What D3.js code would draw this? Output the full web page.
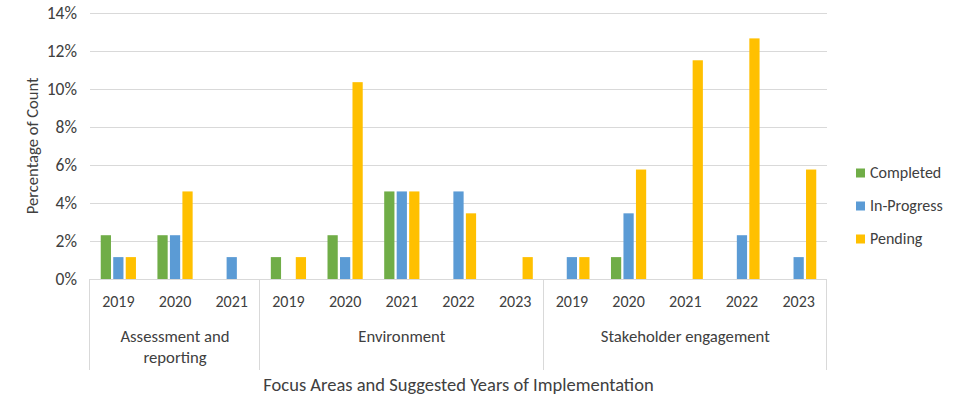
<!DOCTYPE html>
<html>
<head>
<meta charset="utf-8">
<script src="https://cdn.jsdelivr.net/npm/d3@7"></script>
<style>
  html, body { margin: 0; padding: 0; background: #fff; }
  svg text { font-family: Carlito, "Liberation Sans Narrow", Lato, sans-serif; fill: #404040; }
</style>
</head>
<body>
<svg id="chart" width="971" height="399"></svg>
<script>
// Focus areas and the implementation years listed under each
const focusAreas = ["Assessment and reporting", "Environment", "Stakeholder engagement"];
const areaYears = [
  ["2019", "2020", "2021"],
  ["2019", "2020", "2021", "2022", "2023"],
  ["2019", "2020", "2021", "2022", "2023"]
];

// Share of all actions (percent) per status, one value per area/year column
const completed  = [2.30, 2.30, 0,    1.15, 2.30, 4.60, 0,    0,    0,    1.15, 0,     0,     0];
const inProgress = [1.15, 2.30, 1.15, 0,    1.15, 4.60, 4.60, 0,    1.15, 3.45, 0,     2.30,  1.15];
const pending    = [1.15, 4.60, 0,    1.15, 10.34, 4.60, 3.45, 1.15, 1.15, 5.75, 11.49, 12.64, 5.75];

const seriesNames = ["Completed", "In-Progress", "Pending"];
const seriesColors = ["#70ad47", "#5b9bd5", "#ffc000"];
const yTicks = [0, 2, 4, 6, 8, 10, 12, 14];

const yTitle = "Percentage of Count";
const xTitle = "Focus Areas and Suggested Years of Implementation";

// Flatten areas into one column per year
const columns = [];
focusAreas.forEach((area, a) => areaYears[a].forEach(y => columns.push({ area, year: y, a })));
const seriesValues = [completed, inProgress, pending];

const svg = d3.select("#chart");
const plot = { left: 90, right: 827, top: 12.5, bottom: 279 };
const gridColor = "#d9d9d9";

const x = d3.scaleBand()
  .domain(d3.range(columns.length))
  .range([plot.left, plot.right])
  .padding(0);

const xs = d3.scaleBand()
  .domain(seriesNames)
  .range([0, x.bandwidth()])
  .paddingInner(0.18)
  .paddingOuter(0.86);

const y = d3.scaleLinear()
  .domain([0, 14])
  .range([plot.bottom, plot.top]);

// Horizontal gridlines
svg.append("g")
  .selectAll("line")
  .data(yTicks.slice(1))
  .join("line")
  .attr("x1", plot.left).attr("x2", plot.right)
  .attr("y1", d => Math.round(y(d)) + 0.5).attr("y2", d => Math.round(y(d)) + 0.5)
  .attr("stroke", gridColor).attr("stroke-width", 1);

// Y axis labels
const yAxis = svg.append("g")
  .attr("transform", `translate(${plot.left - 13},0)`)
  .call(d3.axisLeft(y).tickValues(yTicks).tickSize(0).tickFormat(d => d + "%"));
yAxis.select(".domain").remove();
yAxis.selectAll("text").attr("font-size", 17.5).attr("dy", "0.34em").attr("x", 0);

// Bars
const barGroups = svg.append("g")
  .selectAll("g")
  .data(columns)
  .join("g")
  .attr("transform", (d, i) => `translate(${x(i)},0)`);

barGroups.selectAll("rect")
  .data((d, i) => seriesNames.map((s, k) => ({ s, k, v: seriesValues[k][i] })).filter(e => e.v > 0))
  .join("rect")
  .attr("x", e => xs(e.s))
  .attr("width", xs.bandwidth())
  .attr("y", e => y(e.v))
  .attr("height", e => y(0) - y(e.v))
  .attr("fill", e => seriesColors[e.k]);

// Category axis baseline
svg.append("line")
  .attr("x1", plot.left).attr("x2", plot.right)
  .attr("y1", plot.bottom + 0.5).attr("y2", plot.bottom + 0.5)
  .attr("stroke", gridColor);

// Group separators of the two-level category axis
const boundaries = [0];
let acc = 0;
areaYears.forEach(ys => { acc += ys.length; boundaries.push(acc); });
svg.append("g")
  .selectAll("line")
  .data(boundaries)
  .join("line")
  .attr("x1", b => Math.round(b === columns.length ? plot.right : x(b)) - 0.5)
  .attr("x2", b => Math.round(b === columns.length ? plot.right : x(b)) - 0.5)
  .attr("y1", plot.bottom).attr("y2", 370)
  .attr("stroke", gridColor);

// Year labels
svg.append("g")
  .selectAll("text")
  .data(columns)
  .join("text")
  .attr("x", (d, i) => x(i) + x.bandwidth() / 2)
  .attr("y", 302)
  .attr("dy", "0.34em")
  .attr("text-anchor", "middle")
  .attr("font-size", 16)
  .text(d => d.year);

// Area labels (wrapped to fit the group width)
const areaLabels = svg.append("g");
focusAreas.forEach((area, a) => {
  const x0 = x(boundaries[a]);
  const x1 = boundaries[a + 1] === columns.length ? plot.right : x(boundaries[a + 1]);
  const cx = (x0 + x1) / 2;
  const lines = area === "Assessment and reporting" ? ["Assessment and", "reporting"] : [area];
  const t = areaLabels.append("text")
    .attr("text-anchor", "middle")
    .attr("font-size", 16.7);
  lines.forEach((ln, j) => {
    t.append("tspan").attr("x", cx).attr("y", 336 + j * 21.5).attr("dy", "0.34em").text(ln);
  });
});

// Axis titles
svg.append("text")
  .attr("x", (plot.left + plot.right) / 2)
  .attr("y", 385)
  .attr("dy", "0.34em")
  .attr("text-anchor", "middle")
  .attr("font-size", 18.5)
  .text(xTitle);

svg.append("text")
  .attr("transform", `translate(32,${(plot.top + plot.bottom) / 2}) rotate(-90)`)
  .attr("dy", "0.34em")
  .attr("text-anchor", "middle")
  .attr("font-size", 16.6)
  .text(yTitle);

// Legend
const legend = svg.append("g")
  .selectAll("g")
  .data(seriesNames)
  .join("g")
  .attr("transform", (d, i) => `translate(856,${173 + i * 33})`);
legend.append("rect")
  .attr("x", 0).attr("y", -4.5).attr("width", 9).attr("height", 9)
  .attr("fill", (d, i) => seriesColors[i]);
legend.append("text")
  .attr("x", 14).attr("dy", "0.34em")
  .attr("font-size", 16)
  .text(d => d);
</script>
</body>
</html>
